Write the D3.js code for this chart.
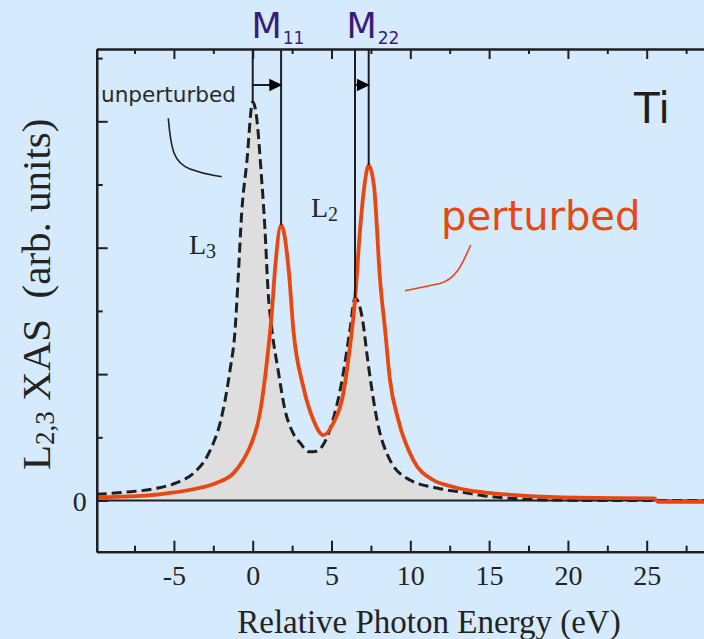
<!DOCTYPE html>
<html>
<head>
<meta charset="utf-8">
<script src="https://cdn.jsdelivr.net/npm/d3@7"></script>
<style>
  html, body { margin: 0; padding: 0; background: #d5eafc; overflow: hidden; }
  svg { display: block; }
  .serif { font-family: "Liberation Serif", "Times New Roman", serif; fill: #232323; }
  .sans  { font-family: "DejaVu Sans", Verdana, sans-serif; }
</style>
</head>
<body>
<svg id="chart" width="704" height="639"></svg>
<script>
// ---- data: Ti L2,3 absorption, relative photon energy (eV) vs intensity (arb. units)
const unperturbedEnergy = [-9.9, -8.21, -6.09, -4.82, -3.77, -3.03, -2.5, -2.07, -1.44, -1.12, -0.93, -0.7, -0.38, 0,
  0.21, 0.57, 0.78, 0.97, 1.22, 1.61, 2.05, 2.56, 3.0, 3.6, 4.05, 4.46, 5.03, 5.67, 6.17, 6.49,
  6.94, 7.32, 7.89, 8.71, 9.98, 11.69, 13.6, 14.63, 16.33, 19.05, 22, 30];
const unperturbedIntensity = [0.049, 0.065, 0.097, 0.141, 0.215, 0.32, 0.453, 0.613, 1.032, 1.349, 1.745, 2.275, 2.67, 3.155,
  3.066, 2.536, 2.14, 1.665, 1.349, 1.032, 0.716, 0.534, 0.457, 0.385, 0.39, 0.439, 0.613, 0.953, 1.349, 1.602,
  1.452, 1.088, 0.636, 0.32, 0.162, 0.099, 0.059, 0.038, 0.017, 0.004, 0, 0];

const perturbedEnergy = [-9.9, -7.15, -5.46, -3.77, -2.28, -1.23, -0.6, -0.17, 0.46, 0.89, 1.21, 1.43, 1.8,
  2.3, 2.58, 3.21, 3.85, 4.48, 5.11, 5.75, 6.17, 6.49, 6.81, 7.08, 7.36, 7.7, 8.08, 8.4, 8.71, 9.24,
  10.19, 11.46, 12.52, 13.79, 15.27, 17.17, 20.56, 25.5, 25.7, 30];
const perturbedIntensity = [0.025, 0.036, 0.057, 0.089, 0.141, 0.215, 0.32, 0.426, 0.692, 1.088, 1.483, 1.85, 2.18,
  1.8, 1.349, 0.9, 0.637, 0.518, 0.611, 0.848, 1.217, 1.586, 2.14, 2.483, 2.654, 2.483, 1.745, 1.349, 0.953, 0.637,
  0.32, 0.162, 0.115, 0.078, 0.057, 0.038, 0.022, 0.017, -0.01, -0.01];

// core-hole shifts: unperturbed peak -> perturbed peak
const shiftLabels = ["11", "22"];
const shiftFrom = [0, 6.49];
const shiftTo = [1.8, 7.36];

const energyTicks = [-5, 0, 5, 10, 15, 20, 25];
const energyMinorTicks = [-7.5, -2.5, 2.5, 7.5, 12.5, 17.5, 22.5, 27.5];
const intensityTicks = [0, 1, 2, 3];
const intensityMinorTicks = [0.5, 1.5, 2.5, 3.5];
const intensityTickLabels = ["0", "", "", ""];

// ---- layout
const svg = d3.select("#chart");
const x = d3.scaleLinear().domain([-9.9, 30]).range([96.7, 725.5]);
const y = d3.scaleLinear().domain([-0.405, 3.572]).range([551.7, 49]);
const [x0, x1] = x.range();
const [yB, yT] = y.range();

const ink = "#1d1f22";
const orange = "#e84810";

const unperturbed = unperturbedEnergy.map((e, i) => ({ e, v: unperturbedIntensity[i] }));
const perturbed = perturbedEnergy.map((e, i) => ({ e, v: perturbedIntensity[i] }));

function valueAt(series, e) {
  const i = d3.bisector(d => d.e).left(series, e);
  if (i <= 0) return series[0].v;
  if (i >= series.length) return series[series.length - 1].v;
  const a = series[i - 1], b = series[i];
  if (b.e === e) return b.v;
  return a.v + (b.v - a.v) * (e - a.e) / (b.e - a.e);
}

svg.append("defs").append("clipPath").attr("id", "plot-clip")
  .append("rect").attr("x", x0).attr("y", yT).attr("width", x1 - x0).attr("height", yB - yT);

const plot = svg.append("g").attr("clip-path", "url(#plot-clip)");

// filled unperturbed spectrum
plot.append("path")
  .datum(unperturbed)
  .attr("fill", "#dedede")
  .attr("d", d3.area().x(d => x(d.e)).y0(y(0)).y1(d => y(d.v)).curve(d3.curveMonotoneX));

// zero line
plot.append("line")
  .attr("x1", x0).attr("x2", x1).attr("y1", y(0)).attr("y2", y(0))
  .attr("stroke", ink).attr("stroke-width", 2);

// unperturbed (dashed)
plot.append("path")
  .datum(unperturbed)
  .attr("fill", "none").attr("stroke", ink).attr("stroke-width", 3)
  .attr("stroke-dasharray", "10,5")
  .attr("d", d3.line().x(d => x(d.e)).y(d => y(d.v)).curve(d3.curveMonotoneX));

// perturbed
plot.append("path")
  .datum(perturbed)
  .attr("fill", "none").attr("stroke", orange).attr("stroke-width", 3.8)
  .attr("stroke-linejoin", "round")
  .attr("d", d3.line().x(d => x(d.e)).y(d => y(d.v)).curve(d3.curveMonotoneX));

// ---- axes (ticks point inward)
function styleAxis(g) {
  g.selectAll(".domain").attr("stroke", ink).attr("stroke-width", 2.2);
  g.selectAll(".tick line").attr("stroke", ink).attr("stroke-width", 2);
}

svg.append("g").attr("transform", `translate(0,${yB})`)
  .call(d3.axisBottom(x).tickValues(energyMinorTicks).tickSizeInner(-6).tickSizeOuter(0).tickFormat(""))
  .call(styleAxis);
const bottomAxis = svg.append("g").attr("transform", `translate(0,${yB})`)
  .call(d3.axisBottom(x).tickValues(energyTicks).tickSizeInner(-11).tickSizeOuter(0).tickFormat(d => String(d)))
  .call(styleAxis);
bottomAxis.selectAll(".tick text")
  .attr("class", "serif").attr("y", 33).attr("dy", 0)
  .style("font-size", "28px").attr("fill", "#232323");

svg.append("g").attr("transform", `translate(0,${yT})`)
  .call(d3.axisTop(x).tickValues(energyMinorTicks).tickSizeInner(-5).tickSizeOuter(0).tickFormat(""))
  .call(styleAxis);
svg.append("g").attr("transform", `translate(0,${yT})`)
  .call(d3.axisTop(x).tickValues(energyTicks).tickSizeInner(-10).tickSizeOuter(0).tickFormat(""))
  .call(styleAxis);

svg.append("g").attr("transform", `translate(${x0},0)`)
  .call(d3.axisLeft(y).tickValues(intensityMinorTicks).tickSizeInner(-6).tickSizeOuter(0).tickFormat(""))
  .call(styleAxis);
const leftAxis = svg.append("g").attr("transform", `translate(${x0},0)`)
  .call(d3.axisLeft(y).tickValues(intensityTicks).tickSizeInner(-11).tickSizeOuter(0)
    .tickFormat((d, i) => intensityTickLabels[i]))
  .call(styleAxis);
leftAxis.selectAll(".tick text")
  .attr("class", "serif").attr("x", -10).attr("dy", "0.34em")
  .style("font-size", "28px").attr("fill", "#232323");

// right frame edge
svg.append("line").attr("x1", x1).attr("x2", x1).attr("y1", yT).attr("y2", yB)
  .attr("stroke", ink).attr("stroke-width", 2.2);

// ---- peak markers with shift arrows
const arrowLevel = 3.287;
shiftFrom.forEach((e0, i) => {
  const e1 = shiftTo[i];
  [[e0, unperturbed], [e1, perturbed]].forEach(([e, s]) => {
    svg.append("line")
      .attr("x1", x(e)).attr("x2", x(e))
      .attr("y1", yT).attr("y2", y(valueAt(s, e)))
      .attr("stroke", ink).attr("stroke-width", 2);
  });
  const ya = y(arrowLevel);
  const tip = x(e1) + 1.2;
  svg.append("line")
    .attr("x1", x(e0)).attr("x2", tip - 10).attr("y1", ya).attr("y2", ya)
    .attr("stroke", ink).attr("stroke-width", 2);
  svg.append("path")
    .attr("d", `M${tip},${ya} L${tip - 13},${ya - 6.2} L${tip - 13},${ya + 6.2} Z`)
    .attr("fill", "#000");

  // M label, a little right of the pair's midpoint
  const lbl = svg.append("text").attr("class", "sans")
    .attr("x", (x(e0) + x(e1)) / 2 + 11).attr("y", 38.3)
    .attr("text-anchor", "middle").attr("fill", "#3a1c78");
  lbl.append("tspan").style("font-size", "35px").text("M");
  lbl.append("tspan").style("font-size", "17px").attr("dx", 1).attr("dy", 6).text(shiftLabels[i]);
});

// ---- annotations
svg.append("text").attr("class", "sans")
  .attr("x", 101).attr("y", 102).style("font-size", "21.6px").attr("fill", "#2a2a2a")
  .text("unperturbed");
svg.append("path")
  .attr("d", "M168.3,118.3 C171,150 174,163 190,169 S213,175 221.7,176.7")
  .attr("fill", "none").attr("stroke", "#1e1e1e").attr("stroke-width", 1.6);

svg.append("text").attr("class", "sans")
  .attr("x", 441).attr("y", 230).style("font-size", "40px").attr("fill", orange)
  .text("perturbed");
svg.append("path")
  .attr("d", "M470.7,245 C463,262 457,279 440,283.5 L405,290.7")
  .attr("fill", "none").attr("stroke", orange).attr("stroke-width", 1.6);

svg.append("text").attr("class", "sans")
  .attr("x", 634).attr("y", 122.5).style("font-size", "42px").attr("fill", "#1e1e1e")
  .text("Ti");

function edgeLabel(px, py, sub) {
  const t = svg.append("text").attr("class", "serif").attr("x", px).attr("y", py);
  t.append("tspan").style("font-size", "28px").text("L");
  t.append("tspan").style("font-size", "20px").attr("dy", 4).text(sub);
}
edgeLabel(189, 253.5, "3");
edgeLabel(311, 216.5, "2");

// axis titles
svg.append("text").attr("class", "serif")
  .attr("x", 429).attr("y", 633).attr("text-anchor", "middle")
  .style("font-size", "33px").text("Relative Photon Energy (eV)");

const yt = svg.append("text").attr("class", "serif")
  .attr("transform", "translate(50,470) rotate(-90)")
  .attr("xml:space", "preserve").style("white-space", "pre")
  .style("font-size", "41px");
yt.append("tspan").text("L");
yt.append("tspan").style("font-size", "27px").attr("dy", 4).text("2,3");
yt.append("tspan").attr("dy", -4).text(" XAS  (arb. units)");
</script>
</body>
</html>
